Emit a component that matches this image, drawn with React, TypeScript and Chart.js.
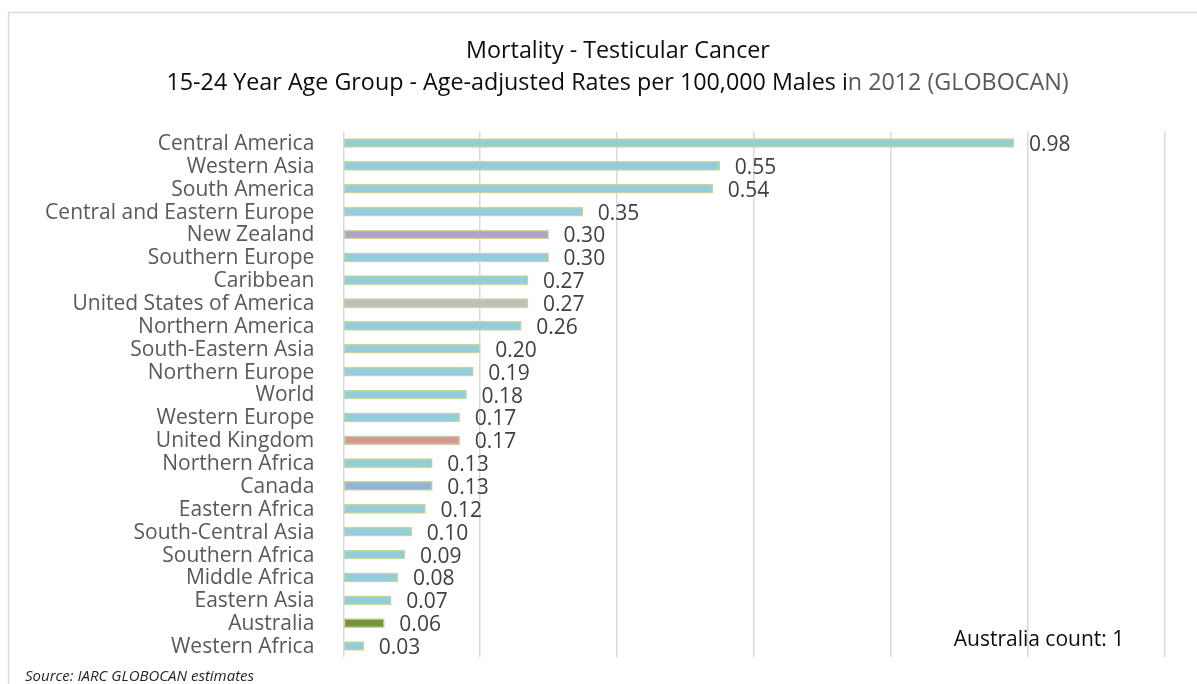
import React, { useEffect, useRef } from "react";
import { Chart, registerables } from "chart.js";

Chart.register(...registerables);

// Regions ranked by mortality rate (per 100,000 males, ages 15-24, 2012)
const categories = [
  "Central America",
  "Western Asia",
  "South America",
  "Central and Eastern Europe",
  "New Zealand",
  "Southern Europe",
  "Caribbean",
  "United States of America",
  "Northern America",
  "South-Eastern Asia",
  "Northern Europe",
  "World",
  "Western Europe",
  "United Kingdom",
  "Northern Africa",
  "Canada",
  "Eastern Africa",
  "South-Central Asia",
  "Southern Africa",
  "Middle Africa",
  "Eastern Asia",
  "Australia",
  "Western Africa",
];

const rates = [
  0.98, 0.55, 0.54, 0.35, 0.3, 0.3, 0.27, 0.27, 0.26, 0.2, 0.19, 0.18, 0.17,
  0.17, 0.13, 0.13, 0.12, 0.1, 0.09, 0.08, 0.07, 0.06, 0.03,
];

// Value axis ticks (gridlines only, no labels shown)
const axisMin = 0;
const axisMax = 1.2;
const axisStep = 0.2;

// Countries picked out with their own bar colour
const highlightNames = [
  "New Zealand",
  "United States of America",
  "United Kingdom",
  "Canada",
  "Australia",
];
const highlightFills = ["#b3a2c7", "#bfbfbf", "#d99694", "#95b3d7", "#77933c"];

const titleLine1 = "Mortality - Testicular Cancer";
const titleLine2Dark = "15-24 Year Age Group - Age-adjusted Rates per 100,000 Males i";
const titleLine2Grey = "n 2012 (GLOBOCAN)";
const noteText = "Australia count: 1";
const sourceText = "Source: IARC GLOBOCAN estimates";

const FONT = "'Open Sans', 'DejaVu Sans', sans-serif";
const BASE_FILL = "#92cddc";
const BAR_EDGE = "#c3d69b";

const decorations = {
  id: "decorations",
  afterDraw(chart: any) {
    const ctx = chart.ctx as CanvasRenderingContext2D;
    ctx.save();

    // outer frame (left and top edges visible)
    ctx.strokeStyle = "#d9d9d9";
    ctx.lineWidth = 1.5;
    ctx.beginPath();
    ctx.moveTo(8.5, 700);
    ctx.lineTo(8.5, 12.5);
    ctx.lineTo(1210, 12.5);
    ctx.stroke();

    // title
    ctx.textBaseline = "alphabetic";
    ctx.font = `23.3px ${FONT}`;
    ctx.fillStyle = "#0d0d0d";
    ctx.textAlign = "center";
    ctx.fillText(titleLine1, 618, 58);

    ctx.textAlign = "left";
    const w1 = ctx.measureText(titleLine2Dark).width;
    const w2 = ctx.measureText(titleLine2Grey).width;
    const start = 617.5 - (w1 + w2) / 2;
    ctx.fillStyle = "#0d0d0d";
    ctx.fillText(titleLine2Dark, start, 90);
    ctx.fillStyle = "#595959";
    ctx.fillText(titleLine2Grey, start + w1, 90);

    // value labels at the bar ends
    const meta = chart.getDatasetMeta(0);
    ctx.font = `21px ${FONT}`;
    ctx.fillStyle = "#404040";
    ctx.textAlign = "left";
    ctx.textBaseline = "alphabetic";
    meta.data.forEach((bar: any, i: number) => {
      ctx.fillText(rates[i].toFixed(2), bar.x + 15, bar.y + 8);
    });

    // note
    ctx.fillStyle = "#0d0d0d";
    ctx.textAlign = "center";
    ctx.fillText(noteText, 1039, 646);

    // source
    ctx.font = `italic 15px ${FONT}`;
    ctx.fillStyle = "#262626";
    ctx.textAlign = "left";
    ctx.fillText(sourceText, 25, 681);

    ctx.restore();
  },
};

export default function App() {
  const canvasRef = useRef<HTMLCanvasElement | null>(null);

  useEffect(() => {
    const canvas = canvasRef.current;
    if (!canvas) return;

    const fills = categories.map((c) => {
      const k = highlightNames.indexOf(c);
      return k >= 0 ? highlightFills[k] : BASE_FILL;
    });

    const chart = new Chart(canvas, {
      type: "bar",
      data: {
        labels: categories,
        datasets: [
          {
            data: rates,
            backgroundColor: fills,
            borderColor: BAR_EDGE,
            borderWidth: 1.5,
            borderSkipped: false,
            barThickness: 9,
          },
        ],
      },
      options: {
        indexAxis: "y",
        responsive: false,
        animation: false,
        layout: {
          padding: { top: 131.6, bottom: 26.6, left: 0, right: 32.5 },
        },
        plugins: {
          legend: { display: false },
          title: { display: false },
          tooltip: { enabled: false },
        },
        scales: {
          x: {
            min: axisMin,
            max: axisMax,
            ticks: { display: false, stepSize: axisStep },
            grid: { color: "#d9d9d9", lineWidth: 1.5, drawTicks: false },
            border: { display: false },
            afterFit(scale: any) {
              scale.height = 0;
            },
          },
          y: {
            grid: { display: false, drawTicks: false },
            border: { display: false },
            ticks: {
              autoSkip: false,
              padding: 29,
              labelOffset: 1,
              color: "#595959",
              font: { family: FONT, size: 21 },
            },
            afterFit(scale: any) {
              scale.width = 343.3;
              scale.paddingTop = 0;
              scale.paddingBottom = 0;
            },
          },
        },
      },
      plugins: [decorations],
    });

    return () => chart.destroy();
  }, []);

  return (
    <div
      style={{
        position: "fixed",
        left: 0,
        top: 0,
        width: 1197,
        height: 684,
        background: "#ffffff",
      }}
    >
      <canvas ref={canvasRef} width={1197} height={684} />
    </div>
  );
}
